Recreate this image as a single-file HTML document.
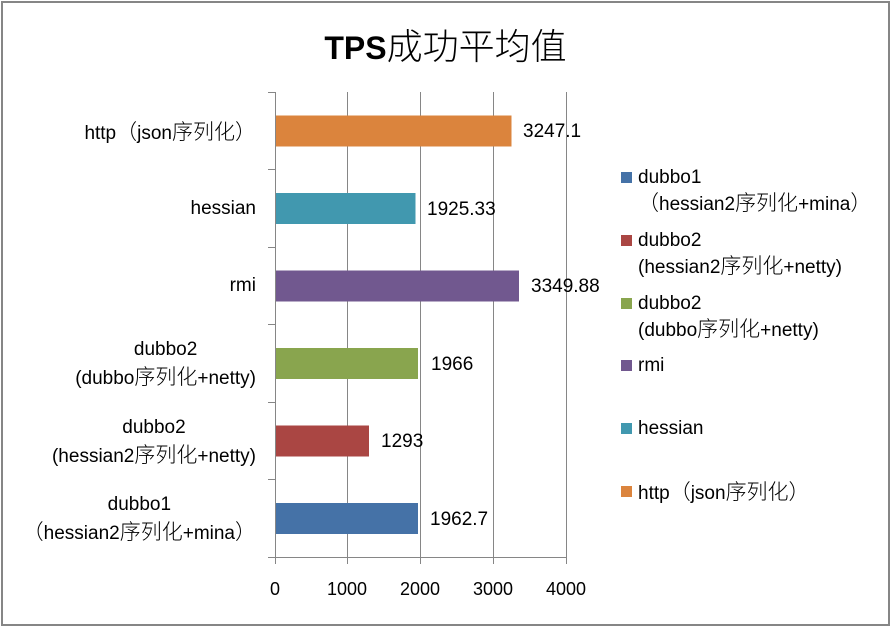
<!DOCTYPE html>
<html><head><meta charset="utf-8">
<style>
*{margin:0;padding:0;box-sizing:border-box}
body{width:891px;height:626px;background:#fff;position:relative;overflow:hidden;font-family:"Liberation Sans","Noto Sans CJK SC",sans-serif;color:#000}
.frame{position:absolute;left:1px;top:1px;width:889px;height:625px;border:2px solid #868686}
.t{position:absolute;white-space:nowrap}
.c{font-family:"Noto Sans CJK SC","Liberation Sans",sans-serif;font-size:21px;font-weight:300}
.lbl{position:absolute;right:635px;text-align:center;font-size:19px;line-height:26px;white-space:nowrap}
.val{position:absolute;font-size:19px;line-height:31px;white-space:nowrap}
.tick{position:absolute;top:577px;width:60px;text-align:center;font-size:18px;line-height:24px}
.leg{position:absolute;left:638px;font-size:19px;line-height:25px;white-space:nowrap}
.mk{position:absolute;left:621px;width:11px;height:11px}
</style></head><body>
<div class="frame"></div>
<div class="t" style="left:0;width:891px;top:24px;text-align:center;line-height:40px;"><span style="font-weight:bold;font-size:32px">TPS</span><span style="font-family:'Noto Sans CJK SC',sans-serif;font-size:36px;font-weight:300">成功平均值</span></div>

<svg width="891" height="626" style="position:absolute;left:0;top:0">
<g stroke="#868686" stroke-width="1" fill="none" shape-rendering="crispEdges">
<line x1="347.5" y1="92" x2="347.5" y2="564"/>
<line x1="420.5" y1="92" x2="420.5" y2="564"/>
<line x1="493.5" y1="92" x2="493.5" y2="564"/>
<line x1="566.5" y1="92" x2="566.5" y2="564"/>
<line x1="275.5" y1="92" x2="275.5" y2="564"/>
<line x1="268" y1="557.5" x2="567" y2="557.5"/>
<line x1="268" y1="92.5" x2="275" y2="92.5"/>
<line x1="268" y1="169.5" x2="275" y2="169.5"/>
<line x1="268" y1="247.5" x2="275" y2="247.5"/>
<line x1="268" y1="324.5" x2="275" y2="324.5"/>
<line x1="268" y1="402.5" x2="275" y2="402.5"/>
<line x1="268" y1="479.5" x2="275" y2="479.5"/>
</g>
<g shape-rendering="crispEdges">
<rect x="276" y="115.5" width="235.5" height="31" fill="#DB843D"/>
<rect x="276" y="193" width="139.3" height="31" fill="#4198AF"/>
<rect x="276" y="270.5" width="242.8" height="31" fill="#71588F"/>
<rect x="276" y="348" width="142.2" height="31" fill="#89A54E"/>
<rect x="276" y="425.5" width="93.2" height="31" fill="#AA4643"/>
<rect x="276" y="503" width="142" height="31" fill="#4572A7"/>
</g>
</svg>

<div class="val" style="left:523px;top:116px">3247.1</div>
<div class="val" style="left:427px;top:194px">1925.33</div>
<div class="val" style="left:531px;top:271px">3349.88</div>
<div class="val" style="left:431px;top:349px">1966</div>
<div class="val" style="left:381px;top:426px">1293</div>
<div class="val" style="left:430px;top:504px">1962.7</div>

<div class="lbl" style="top:118px">http<span class="c">（</span>json<span class="c">序列化）</span></div>
<div class="lbl" style="top:196px">hessian</div>
<div class="lbl" style="top:273px">rmi</div>
<div class="lbl" style="top:337px">dubbo2<br>(dubbo<span class="c">序列化</span>+netty)</div>
<div class="lbl" style="top:415px">dubbo2<br>(hessian2<span class="c">序列化</span>+netty)</div>
<div class="lbl" style="top:492px">dubbo1<br><span class="c">（</span>hessian2<span class="c">序列化</span>+mina<span class="c">）</span></div>

<div class="tick" style="left:245px">0</div>
<div class="tick" style="left:317px">1000</div>
<div class="tick" style="left:390px">2000</div>
<div class="tick" style="left:463px">3000</div>
<div class="tick" style="left:536px">4000</div>

<div class="mk" style="top:172px;background:#4572A7"></div>
<div class="leg" style="top:165px">dubbo1<br><span class="c">（</span>hessian2<span class="c">序列化</span>+mina<span class="c">）</span></div>
<div class="mk" style="top:235px;background:#AA4643"></div>
<div class="leg" style="top:228px">dubbo2<br>(hessian2<span class="c">序列化</span>+netty)</div>
<div class="mk" style="top:298px;background:#89A54E"></div>
<div class="leg" style="top:291px">dubbo2<br>(dubbo<span class="c">序列化</span>+netty)</div>
<div class="mk" style="top:360px;background:#71588F"></div>
<div class="leg" style="top:353px">rmi</div>
<div class="mk" style="top:423px;background:#4198AF"></div>
<div class="leg" style="top:416px">hessian</div>
<div class="mk" style="top:486px;background:#DB843D"></div>
<div class="leg" style="top:479px">http<span class="c">（</span>json<span class="c">序列化）</span></div>
</body></html>
